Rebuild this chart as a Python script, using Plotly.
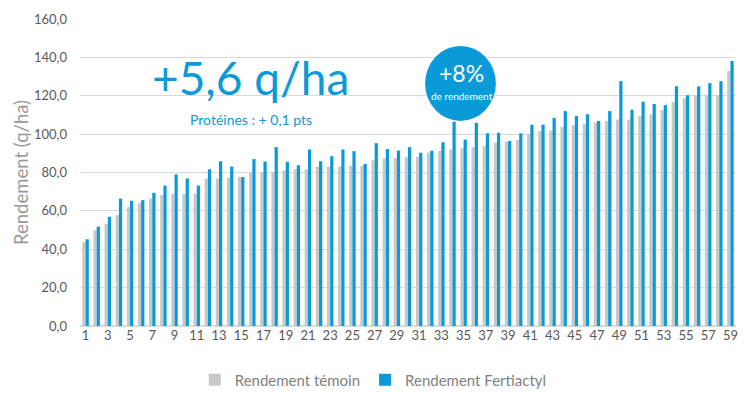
import plotly.graph_objects as go

categories = list(range(1, 60))
temoin = [43.8, 49.9, 53.2, 57.9, 61.9, 64.0, 66.4, 68.2, 68.9, 68.9,
          68.9, 76.9, 76.9, 77.2, 77.6, 80.0, 79.8, 80.2, 81.1, 81.7,
          81.7, 83.1, 83.1, 83.1, 83.5, 83.5, 86.4, 87.3, 87.6, 88.2,
          88.2, 90.3, 91.3, 92.0, 92.7, 93.2, 93.9, 95.5, 96.2, 96.9,
          100.0, 101.6, 101.9, 103.7, 104.7, 105.2, 106.1, 106.9, 107.6, 107.6,
          109.4, 110.3, 112.5, 116.7, 118.8, 120.2, 120.2, 120.2, 132.9]
fertiactyl = [45.2, 51.8, 56.9, 66.4, 65.2, 65.6, 69.4, 73.2, 79.0, 76.9,
              73.2, 81.7, 85.9, 83.1, 77.6, 87.0, 85.7, 93.2, 85.6, 83.8,
              92.0, 85.9, 88.5, 92.0, 91.1, 84.5, 95.3, 92.2, 91.5, 93.2,
              90.3, 91.3, 95.8, 106.5, 97.2, 105.9, 100.4, 100.7, 96.4, 100.4,
              104.9, 104.9, 108.5, 112.0, 109.4, 110.3, 106.9, 112.0, 127.6, 112.7,
              116.9, 115.7, 115.1, 124.9, 120.2, 124.9, 126.6, 127.6, 138.1]
x_ticks = list(range(1, 60, 2))
y_ticks = [0, 20, 40, 60, 80, 100, 120, 140, 160]
y_ticklabels = [f"{v:.1f}".replace(".", ",") for v in y_ticks]

BLUE = "#0a9ad8"
GREY = "#c8c8c8"
FONT = "Lato"

fig = go.Figure()
fig.add_trace(go.Bar(x=categories, y=temoin, name="Rendement témoin",
                     marker=dict(color=GREY, line=dict(width=0))))
fig.add_trace(go.Bar(x=categories, y=fertiactyl, name="Rendement Fertiactyl",
                     marker=dict(color=BLUE, line=dict(width=0))))

fig.update_layout(
    width=750, height=393,
    margin=dict(l=80, r=14, t=19, b=67, autoexpand=False),
    paper_bgcolor="white", plot_bgcolor="white",
    barmode="group", bargap=0.42, bargroupgap=0,
    font=dict(family=FONT, color="#595959", size=13),
    showlegend=True,
    legend=dict(orientation="h", yref="container", x=0.447, xanchor="center",
                y=0.033, yanchor="middle",
                font=dict(size=15, color="#7f7f7f"), itemwidth=30, traceorder="normal"),
    xaxis=dict(range=[0.5, 59.5], tickmode="array", tickvals=x_ticks,
               ticktext=[str(v) for v in x_ticks], showgrid=False, zeroline=False,
               showline=False, ticks="", tickfont=dict(size=13, color="#595959")),
    yaxis=dict(range=[0, 160], tickmode="array", tickvals=y_ticks, ticktext=y_ticklabels,
               showgrid=True, gridcolor="#d9d9d9", gridwidth=1.3, zeroline=True,
               zerolinecolor="#d9d9d9", zerolinewidth=1.5, showline=False, ticks="",
               ticklabelstandoff=12,
               tickfont=dict(size=13, color="#595959"),
               title=dict(text="Rendement (q/ha)", font=dict(size=18.5, color="#999999"),
                          standoff=0)),
)

# callout circle
fig.add_shape(type="circle", xref="paper", yref="paper",
              x0=0.526, x1=0.634, y0=0.668, y1=0.912,
              fillcolor=BLUE, line=dict(width=0), layer="above")

common = dict(xref="paper", yref="paper", showarrow=False, xanchor="center", yanchor="middle")
fig.add_annotation(text="+8%", x=0.582, y=0.825,
                   font=dict(size=23, color="white", family=FONT), **common)
fig.add_annotation(text="de rendement", x=0.582, y=0.748,
                   font=dict(size=10, color="white", family=FONT), **common)
fig.add_annotation(text="+5,6 q/ha", x=0.26, y=0.81,
                   font=dict(size=46, color=BLUE, family=FONT), **common)
fig.add_annotation(text="Protéines : + 0,1 pts", x=0.26, y=0.672,
                   font=dict(size=14, color=BLUE, family=FONT), **common)

fig.write_html("out.html", config={"displayModeBar": False},
               post_script="document.body.style.margin='0';document.body.style.overflow='hidden';")
